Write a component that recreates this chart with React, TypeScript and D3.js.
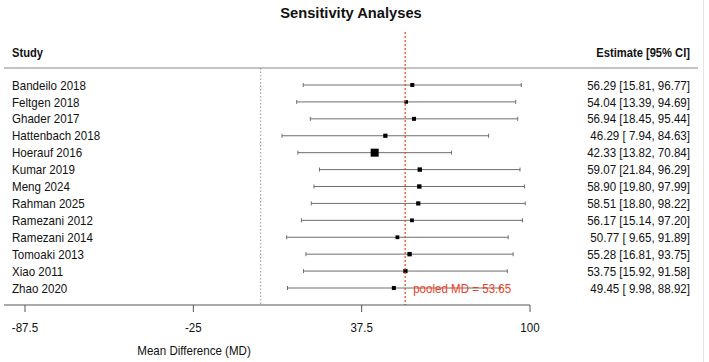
import React from 'react';
import * as d3 from 'd3';

// study rows, top to bottom
const studies = [
  'Bandeilo 2018', 'Feltgen 2018', 'Ghader 2017', 'Hattenbach 2018', 'Hoerauf 2016',
  'Kumar 2019', 'Meng 2024', 'Rahman 2025', 'Ramezani 2012', 'Ramezani 2014',
  'Tomoaki 2013', 'Xiao 2011', 'Zhao 2020',
];
const estimates = [56.29, 54.04, 56.94, 46.29, 42.33, 59.07, 58.90, 58.51, 56.17, 50.77, 55.28, 53.75, 49.45];
const lower = [15.81, 13.39, 18.45, 7.94, 13.82, 21.84, 19.80, 18.80, 15.14, 9.65, 16.81, 15.92, 9.98];
const upper = [96.77, 94.69, 95.44, 84.63, 70.84, 96.29, 97.99, 98.22, 97.20, 91.89, 93.75, 91.58, 88.92];
// relative weights, drive the square sizes
const weights = [1, 0.9, 1, 1.05, 2, 1.1, 1.1, 1.05, 0.95, 0.95, 1.1, 1.05, 1];
const pooled = 53.65;
const axisTicks = [-87.5, -25, 37.5, 100];

const W = 709;
const H = 362;
const FONT = '"Liberation Sans", Arial, Helvetica, sans-serif';

const fmt = (v: number) => {
  const s = v.toFixed(2);
  return v < 10 ? ' ' + s : s;
};

// narrow text: tall glyphs squeezed horizontally
function Txt({ x, y, anchor = 'start', bold = false, fill = '#111', sx = 0.89, size = 13, children }: any) {
  return (
    <g transform={`translate(${x},${y}) scale(${sx},1)`}>
      <text textAnchor={anchor} fontWeight={bold ? 'bold' : 'normal'} fontSize={size} fill={fill} style={{ whiteSpace: 'pre' }}>
        {children}
      </text>
    </g>
  );
}

export default function App() {
  const x = d3.scaleLinear().domain([-87.5, 100]).range([25, 530]);
  const y = d3.scaleLinear().domain([0, studies.length - 1]).range([85, 288]);
  const size = d3.scaleLinear().domain([1, 2]).range([4, 8]);
  const axisY = 305;
  const headerY = 68;
  const red = '#f0401e';

  return (
    <svg width={W} height={H} style={{ position: 'absolute', left: 0, top: 0, background: '#fff' }} fontFamily={FONT}>
      <rect x={0} y={0} width={W} height={H} fill="#fff" />
      <line x1={703.5} x2={703.5} y1={0} y2={H} stroke="#e6e6e6" />

      <Txt x={351} y={18} anchor="middle" bold size={15} sx={0.98}>Sensitivity Analyses</Txt>
      <Txt x={12} y={57} bold sx={0.86}>Study</Txt>
      <Txt x={690} y={57} anchor="end" bold sx={0.86}>Estimate [95% CI]</Txt>
      <line x1={4} x2={698} y1={headerY} y2={headerY} stroke="#888" strokeWidth={1.2} />

      {/* line of no effect */}
      <line x1={x(0)} x2={x(0)} y1={headerY} y2={axisY} stroke="#777" strokeWidth={0.8} strokeDasharray="1.5,2" />

      {studies.map((s, i) => {
        const cy = y(i);
        const sz = size(weights[i]);
        return (
          <g key={s}>
            <Txt x={12} y={cy + 4.6}>{s}</Txt>
            <line x1={x(lower[i])} x2={x(upper[i])} y1={cy} y2={cy} stroke="#6e6e6e" strokeWidth={1} />
            <line x1={x(lower[i])} x2={x(lower[i])} y1={cy - 2} y2={cy + 2} stroke="#6e6e6e" strokeWidth={1} />
            <line x1={x(upper[i])} x2={x(upper[i])} y1={cy - 2} y2={cy + 2} stroke="#6e6e6e" strokeWidth={1} />
            <rect x={x(estimates[i]) - sz / 2} y={cy - sz / 2} width={sz} height={sz} fill="#000" />
            <Txt x={690} y={cy + 4.6} anchor="end">
              {`${estimates[i].toFixed(2)} [${fmt(lower[i])}, ${upper[i].toFixed(2)}]`}
            </Txt>
          </g>
        );
      })}

      {/* pooled estimate */}
      <line x1={x(pooled)} x2={x(pooled)} y1={32} y2={axisY} stroke={red} strokeWidth={1.2} strokeDasharray="2,2" />
      <Txt x={x(pooled) + 8} y={y(studies.length - 1) + 4.6} fill={red}>
        {`pooled MD = ${pooled.toFixed(2)}`}
      </Txt>

      {/* x axis */}
      <line x1={4} x2={x(100)} y1={axisY} y2={axisY} stroke="#555" strokeWidth={1} />
      {axisTicks.map((t) => (
        <g key={t}>
          <line x1={x(t)} x2={x(t)} y1={axisY} y2={axisY + 7} stroke="#555" />
          <Txt x={x(t)} y={331.5} anchor="middle">{String(t)}</Txt>
        </g>
      ))}
      <Txt x={194} y={354.5} anchor="middle">Mean Difference (MD)</Txt>
    </svg>
  );
}
